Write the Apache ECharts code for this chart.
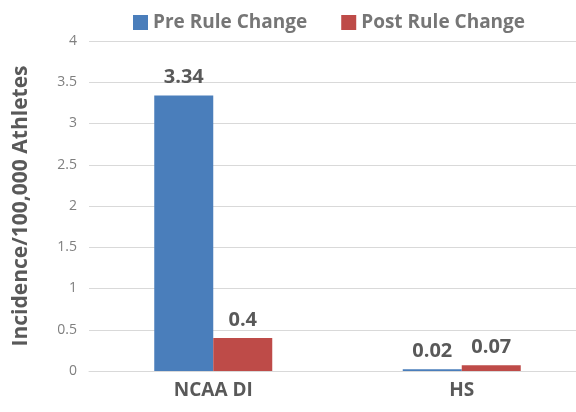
<!DOCTYPE html>
<html>
<head>
<meta charset="utf-8">
<script src="https://cdn.jsdelivr.net/npm/echarts@6/dist/echarts.min.js"></script>
<style>
  html, body { margin: 0; padding: 0; background: #fff; }
  #main { width: 576px; height: 412px; }
</style>
</head>
<body>
<div id="main"></div>
<script>
var categories = ["NCAA DI", "HS"];
var preRule = [3.34, 0.02];
var postRule = [0.4, 0.07];
var yTicks = [0, 0.5, 1, 1.5, 2, 2.5, 3, 3.5, 4];

var chart = echarts.init(document.getElementById("main"));
var font = "'Open Sans', sans-serif";

var labelStyle = {
  show: true,
  position: "top",
  distance: 8,
  fontFamily: font,
  fontSize: 20,
  fontWeight: "bold",
  color: "#595959"
};

var option = {
  animation: false,
  textStyle: { fontFamily: font },
  legend: {
    top: 8,
    left: 128,
    itemWidth: 15,
    itemHeight: 15,
    itemGap: 34,
    icon: "rect",
    textStyle: { fontSize: 19, fontWeight: "bold", color: "#767676", fontFamily: font }
  },
  grid: { left: 89, right: -10, top: 41, bottom: 41, outerBoundsMode: "none", containLabel: false },
  xAxis: {
    type: "category",
    data: categories,
    axisTick: { show: false },
    axisLine: { lineStyle: { color: "#d9d9d9", width: 1 } },
    axisLabel: { margin: 10, fontSize: 19, fontWeight: "bold", color: "#595959", fontFamily: font }
  },
  yAxis: {
    type: "value",
    min: yTicks[0],
    max: yTicks[yTicks.length - 1],
    interval: 0.5,
    name: "Incidence/100,000 Athletes",
    nameLocation: "middle",
    nameGap: 57,
    nameTextStyle: { fontSize: 21, fontWeight: "bold", color: "#595959", fontFamily: font },
    axisLine: { show: false },
    axisTick: { show: false },
    axisLabel: { margin: 12, fontSize: 14, color: "#7f7f7f", fontFamily: font },
    splitLine: { lineStyle: { color: "#d9d9d9", width: 1 } }
  },
  series: [
    {
      name: "Pre Rule Change",
      type: "bar",
      data: preRule,
      barWidth: 59,
      barGap: "0%",
      itemStyle: { color: "#4a7ebb" },
      label: labelStyle
    },
    {
      name: "Post Rule Change",
      type: "bar",
      data: postRule,
      barWidth: 59,
      itemStyle: { color: "#be4b48" },
      label: labelStyle
    }
  ]
};

chart.setOption(option);
</script>
</body>
</html>
